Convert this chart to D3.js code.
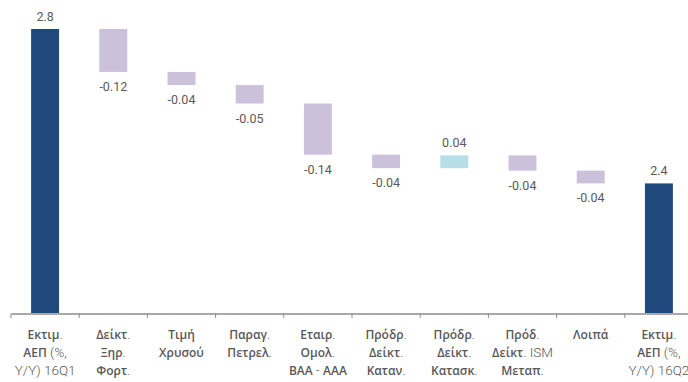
<!DOCTYPE html>
<html>
<head>
<meta charset="utf-8">
<script src="https://cdn.jsdelivr.net/npm/d3@7"></script>
<style>
  html, body { margin: 0; padding: 0; background: #fff; }
  svg { display: block; }
</style>
</head>
<body>
<svg id="chart" width="688" height="382"></svg>
<script>
// Waterfall: estimated GDP growth 16Q1 -> 16Q2 and its drivers
const categories = [
  "Εκτιμ.|ΑΕΠ (%,|Y/Y) 16Q1",
  "Δείκτ.|Ξηρ.|Φορτ.",
  "Τιμή|Χρυσού",
  "Παραγ.|Πετρελ.",
  "Εταιρ.|Ομολ.|ΒΑΑ - ΑΑΑ",
  "Πρόδρ.|Δείκτ.|Καταν.",
  "Πρόδρ.|Δείκτ.|Κατασκ.",
  "Πρόδ.|Δείκτ. ISM|Μεταπ.",
  "Λοιπά",
  "Εκτιμ.|ΑΕΠ (%,|Y/Y) 16Q2"
];
const values = [2.8, -0.121, -0.037, -0.052, -0.144, -0.038, 0.036, -0.043, -0.036, 2.365];
const kinds = ["total", "delta", "delta", "delta", "delta", "delta", "delta", "delta", "delta", "total"];
const yDomain = [2.0, 2.8];

const colors = { total: "#1F497D", down: "#CCC1DA", up: "#B7DEE8" };

const svg = d3.select("#chart");

const x = d3.scaleBand().domain(d3.range(categories.length))
  .range([11, 693]).paddingInner(0.59).paddingOuter(0.295);
const xCat = d3.scaleBand().domain(d3.range(categories.length)).range([11, 693]);
const y = d3.scaleLinear().domain(yDomain).range([313, 29]);

// running level for floating bars
let level = 0;
const bars = values.map((v, i) => {
  let y0, y1, kind;
  if (kinds[i] === "total") {
    y0 = yDomain[0]; y1 = v; level = v; kind = "total";
  } else {
    y0 = level; y1 = level + v; level = y1; kind = v < 0 ? "down" : "up";
  }
  return { i, v, y0, y1, kind, top: Math.max(y0, y1), bottom: Math.min(y0, y1) };
});

svg.append("g").selectAll("rect").data(bars).join("rect")
  .attr("x", d => x(d.i))
  .attr("width", x.bandwidth())
  .attr("y", d => y(d.top))
  .attr("height", d => y(d.bottom) - y(d.top))
  .attr("fill", d => colors[d.kind]);

// value labels (plain hyphen for the minus sign)
const locale = d3.formatLocale({ decimal: ".", thousands: ",", grouping: [3], currency: ["", ""], minus: "-" });
const fmtTotal = locale.format(".1f"), fmtDelta = locale.format(".2f");
svg.append("g").selectAll("text").data(bars).join("text")
  .attr("x", d => x(d.i) + x.bandwidth() / 2)
  .attr("y", d => d.kind === "down" ? y(d.bottom) + 19 : y(d.top) - 8)
  .attr("text-anchor", "middle")
  .attr("font-family", "Roboto, sans-serif")
  .attr("font-size", 12.5)
  .attr("fill", "#595959")
  .text(d => d.kind === "total" ? fmtTotal(d.v) : fmtDelta(d.v));

// category axis
const axis = svg.append("g").attr("transform", "translate(0,313.5)")
  .call(d3.axisBottom(xCat).tickSize(0).tickFormat(""));
axis.select(".domain").attr("stroke", "#8c8c8c").attr("stroke-width", 1.6);
axis.selectAll(".tick").remove();

axis.selectAll("line.sep").data(d3.range(categories.length + 1)).join("line")
  .attr("class", "sep")
  .attr("x1", d => 11 + d * xCat.step()).attr("x2", d => 11 + d * xCat.step())
  .attr("y1", 0).attr("y2", 4.5)
  .attr("stroke", "#8c8c8c").attr("stroke-width", 1);

// multi-line category labels; Greek runs set semibold
const greek = /[\u0370-\u03FF\u1F00-\u1FFF]/;
const labels = svg.append("g");
categories.forEach((c, i) => {
  const t = labels.append("text")
    .attr("text-anchor", "middle")
    .attr("fill", "#595959");
  c.split("|").forEach((line, li) => {
    const runs = [];
    for (const ch of line) {
      const g = greek.test(ch);
      if (runs.length && (runs[runs.length - 1].g === g || ch === " ")) runs[runs.length - 1].s += ch;
      else runs.push({ g, s: ch });
    }
    const lineEl = t.append("tspan")
      .attr("x", xCat(i) + xCat.bandwidth() / 2)
      .attr("y", 338.5 + li * 18.2);
    runs.forEach(r => {
      lineEl.append("tspan")
        .attr("font-family", r.g ? "'Open Sans', sans-serif" : "Roboto, sans-serif")
        .attr("font-weight", r.g ? 600 : 300)
        .attr("font-size", r.g ? 12 : 13.5)
        .text(r.s);
    });
  });
});
</script>
</body>
</html>
